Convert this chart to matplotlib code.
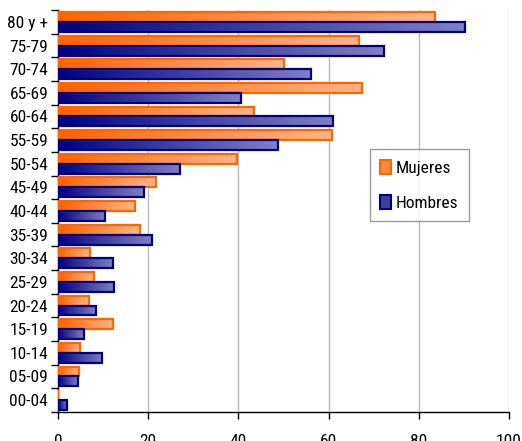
import numpy as np
import matplotlib
matplotlib.use("Agg")
import matplotlib.pyplot as plt
from matplotlib.colors import LinearSegmentedColormap
from matplotlib.patches import Patch

categories = ["00-04", "05-09", "10-14", "15-19", "20-24", "25-29", "30-34", "35-39",
              "40-44", "45-49", "50-54", "55-59", "60-64", "65-69", "70-74", "75-79", "80 y +"]
mujeres = [0.0, 4.6, 5.0, 12.3, 6.8, 8.1, 7.0, 18.3, 17.0, 21.7, 39.7, 60.7, 43.4, 67.5, 50.1, 66.8, 83.5]
hombres = [2.0, 4.4, 9.8, 5.7, 8.4, 12.5, 12.1, 20.8, 10.5, 19.0, 27.1, 48.7, 61.0, 40.6, 56.2, 72.4, 90.2]
xticks = [0, 20, 40, 60, 80, 100]

plt.rcParams["font.family"] = ["Roboto Condensed", "Liberation Sans", "DejaVu Sans"]

fig = plt.figure(figsize=(5.22, 4.41), dpi=100)
ax = fig.add_axes([0.111, 0.066, 0.864, 0.911])

y = np.arange(len(categories))
h = 0.42
off = 0.21

cm_m = LinearSegmentedColormap.from_list("m", ["#FF6200", "#FFB58A"])
cm_h = LinearSegmentedColormap.from_list("h", ["#000080", "#8080C4"])
grad = np.linspace(0, 1, 256).reshape(1, -1)

bm = ax.barh(y + off, mujeres, height=h, facecolor="none", edgecolor="#FF6600", linewidth=1.6, zorder=4)
bh = ax.barh(y - off, hombres, height=h, facecolor="none", edgecolor="#000080", linewidth=1.6, zorder=4)

for bars, cm in ((bm, cm_m), (bh, cm_h)):
    for r in bars:
        x0, y0 = r.get_x(), r.get_y()
        w, hh = r.get_width(), r.get_height()
        if w <= 0:
            continue
        im = ax.imshow(grad, cmap=cm, aspect="auto", extent=(x0, x0 + w, y0, y0 + hh),
                       zorder=3, interpolation="bilinear")
        im.set_clip_path(r)

ax.set_xlim(0, 100)
ax.set_ylim(-0.5, len(categories) - 0.5)
ax.set_xticks(xticks)
ax.set_xticklabels([str(t) for t in xticks])
ax.set_yticks(y)
ax.set_yticklabels(categories)
ax.set_yticks(np.arange(-0.5, len(categories), 1.0), minor=True)
ax.tick_params(axis="y", which="major", length=0, labelsize=12.5, pad=7)
ax.tick_params(axis="y", which="minor", length=5, width=1, direction="out")
ax.tick_params(axis="x", which="major", length=5, width=1, direction="out", labelsize=12.5, pad=11)

for s in ["top", "right"]:
    ax.spines[s].set_visible(False)
ax.spines["left"].set_linewidth(1)
ax.spines["bottom"].set_linewidth(1)
ax.grid(axis="x", color="#BBBBBB", linewidth=1, zorder=0)
ax.set_axisbelow(True)

handles = [Patch(facecolor="#FF8A40", edgecolor="#FF6600", linewidth=1.5, label="Mujeres"),
           Patch(facecolor="#404098", edgecolor="#000080", linewidth=1.5, label="Hombres")]
leg = ax.legend(handles=handles, loc="upper left", bbox_to_anchor=(0.692, 0.654),
                fontsize=12.5, frameon=True, fancybox=False, edgecolor="#808080",
                handlelength=0.6, handleheight=0.9, handletextpad=0.3,
                labelspacing=1.1, borderpad=0.6, borderaxespad=0)
leg.get_frame().set_linewidth(1)

fig.savefig("out.png", dpi=100)
